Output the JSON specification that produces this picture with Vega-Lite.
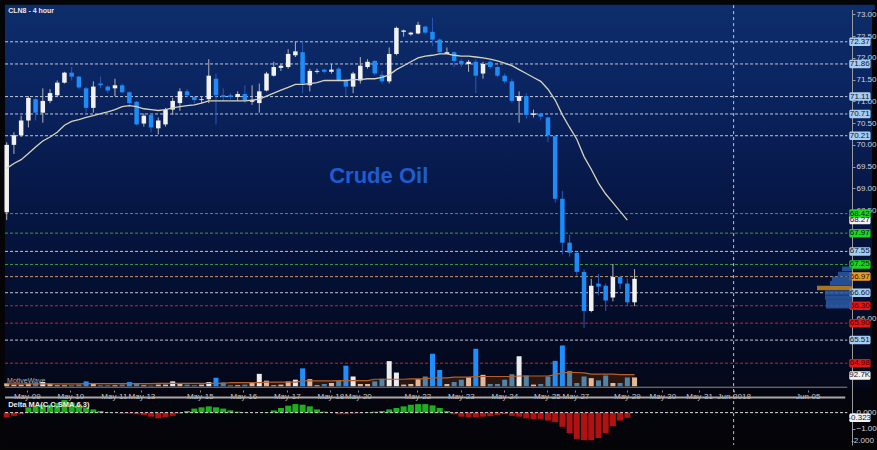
{
 "$schema": "https://vega.github.io/schema/vega-lite/v6.json",
 "width": 867, "height": 440, "padding": 5, "autosize": {"type": "none"},
 "background": "#050508",
 "config": {
  "view": {"stroke": null, "fill": {"gradient": "linear", "x1": 0, "y1": 0, "x2": 0, "y2": 1, "stops": [
    {"offset": 0, "color": "#0d2d6b"}, {"offset": 0.2, "color": "#0a2460"}, {"offset": 0.4, "color": "#07194a"},
    {"offset": 0.6, "color": "#041136"}, {"offset": 0.75, "color": "#030b24"}, {"offset": 0.86, "color": "#04081a"},
    {"offset": 0.875, "color": "#040510"}, {"offset": 1, "color": "#040408"}]}},
  "axis": {"grid": false, "labelFont": "Liberation Sans", "labelFontSize": 8, "labelColor": "#d0d0d0", "domainColor": "#8a8a8a", "tickColor": "#8a8a8a", "zindex": 0},
  "text": {"font": "Liberation Sans"}
 },
 "datasets": {
  "bars": [
   {"i":0,"open":68.45,"high":70.06,"low":68.27,"close":70.0,"ma":69.46,"vol":25.2,"vma":21,"delta":-0.3},
   {"i":1,"open":70.0,"high":70.29,"low":69.79,"close":70.22,"ma":69.57,"vol":14.3,"vma":21,"delta":-0.2},
   {"i":2,"open":70.22,"high":70.67,"low":70.18,"close":70.56,"ma":69.66,"vol":14.3,"vma":21,"delta":-0.1},
   {"i":3,"open":70.56,"high":71.12,"low":70.4,"close":71.08,"ma":69.8,"vol":22.7,"vma":21,"delta":0.33},
   {"i":4,"open":71.05,"high":71.08,"low":70.56,"close":70.74,"ma":69.95,"vol":27.7,"vma":21,"delta":0.39},
   {"i":5,"open":70.74,"high":71.3,"low":70.51,"close":71.01,"ma":70.09,"vol":36.1,"vma":21,"delta":0.49},
   {"i":6,"open":71.01,"high":71.28,"low":70.96,"close":71.19,"ma":70.18,"vol":22.7,"vma":21,"delta":0.49},
   {"i":7,"open":71.14,"high":71.48,"low":71.12,"close":71.43,"ma":70.29,"vol":8.4,"vma":21,"delta":0.59},
   {"i":8,"open":71.43,"high":71.68,"low":71.41,"close":71.66,"ma":70.45,"vol":8.4,"vma":21,"delta":0.78},
   {"i":9,"open":71.66,"high":71.79,"low":71.48,"close":71.57,"ma":70.54,"vol":8.4,"vma":21,"delta":0.63},
   {"i":10,"open":71.57,"high":71.59,"low":71.28,"close":71.32,"ma":70.58,"vol":14.3,"vma":21,"delta":0.49},
   {"i":11,"open":71.3,"high":71.34,"low":70.74,"close":70.85,"ma":70.63,"vol":42,"vma":22,"delta":0.33},
   {"i":12,"open":70.85,"high":71.46,"low":70.74,"close":71.34,"ma":70.67,"vol":22.7,"vma":22,"delta":0.2},
   {"i":13,"open":71.41,"high":71.57,"low":71.3,"close":71.37,"ma":70.72,"vol":8.4,"vma":22,"delta":0.1},
   {"i":14,"open":71.34,"high":71.37,"low":71.19,"close":71.25,"ma":70.76,"vol":8.4,"vma":22,"delta":0.02},
   {"i":15,"open":71.3,"high":71.52,"low":71.12,"close":71.37,"ma":70.81,"vol":8.4,"vma":22,"delta":0.0},
   {"i":16,"open":71.37,"high":71.41,"low":71.19,"close":71.21,"ma":70.88,"vol":14.3,"vma":22,"delta":-0.06},
   {"i":17,"open":71.21,"high":71.23,"low":70.9,"close":70.96,"ma":70.9,"vol":36.1,"vma":22,"delta":-0.06},
   {"i":18,"open":70.99,"high":71.01,"low":70.45,"close":70.47,"ma":70.88,"vol":19.3,"vma":22,"delta":-0.1},
   {"i":19,"open":70.49,"high":70.72,"low":70.42,"close":70.67,"ma":70.83,"vol":8.4,"vma":22,"delta":-0.16},
   {"i":20,"open":70.69,"high":70.72,"low":70.29,"close":70.4,"ma":70.81,"vol":5.9,"vma":22,"delta":-0.25},
   {"i":21,"open":70.38,"high":70.63,"low":70.24,"close":70.56,"ma":70.79,"vol":14.3,"vma":24,"delta":-0.35},
   {"i":22,"open":70.47,"high":70.85,"low":70.42,"close":70.81,"ma":70.81,"vol":14.3,"vma":24,"delta":-0.29},
   {"i":23,"open":70.81,"high":71.08,"low":70.69,"close":71.01,"ma":70.85,"vol":42,"vma":24,"delta":-0.2},
   {"i":24,"open":70.96,"high":71.3,"low":70.78,"close":71.23,"ma":70.88,"vol":27.7,"vma":24,"delta":-0.06},
   {"i":25,"open":71.23,"high":71.28,"low":71.1,"close":71.14,"ma":70.9,"vol":14.3,"vma":24,"delta":0.1},
   {"i":26,"open":71.1,"high":71.12,"low":70.96,"close":71.03,"ma":70.92,"vol":8.4,"vma":25,"delta":0.25},
   {"i":27,"open":71.03,"high":71.12,"low":70.96,"close":71.05,"ma":70.96,"vol":14.3,"vma":25,"delta":0.33},
   {"i":28,"open":71.05,"high":71.97,"low":70.96,"close":71.59,"ma":71.01,"vol":36.1,"vma":25,"delta":0.39},
   {"i":29,"open":71.52,"high":71.64,"low":70.47,"close":71.14,"ma":71.01,"vol":73.1,"vma":25,"delta":0.33},
   {"i":30,"open":71.14,"high":71.3,"low":71.01,"close":71.1,"ma":71.01,"vol":33.6,"vma":25,"delta":0.25},
   {"i":31,"open":71.14,"high":71.19,"low":71.05,"close":71.1,"ma":71.01,"vol":8.4,"vma":32,"delta":0.14},
   {"i":32,"open":71.1,"high":71.23,"low":71.01,"close":71.17,"ma":71.01,"vol":8.4,"vma":32,"delta":0.06},
   {"i":33,"open":71.17,"high":71.37,"low":70.96,"close":71.03,"ma":71.01,"vol":14.3,"vma":32,"delta":0.02},
   {"i":34,"open":70.99,"high":71.37,"low":70.92,"close":71.03,"ma":71.03,"vol":27.7,"vma":32,"delta":0.0},
   {"i":35,"open":70.96,"high":71.41,"low":70.74,"close":71.23,"ma":71.05,"vol":106.7,"vma":32,"delta":0.0},
   {"i":36,"open":71.25,"high":71.68,"low":71.23,"close":71.64,"ma":71.12,"vol":47.9,"vma":36,"delta":0.02},
   {"i":37,"open":71.59,"high":71.91,"low":71.57,"close":71.79,"ma":71.19,"vol":8.4,"vma":36,"delta":0.14},
   {"i":38,"open":71.77,"high":71.86,"low":71.7,"close":71.82,"ma":71.26,"vol":14.3,"vma":36,"delta":0.29},
   {"i":39,"open":71.79,"high":72.2,"low":71.75,"close":72.09,"ma":71.32,"vol":42,"vma":36,"delta":0.43},
   {"i":40,"open":72.06,"high":72.38,"low":72.02,"close":72.15,"ma":71.39,"vol":56.3,"vma":36,"delta":0.53},
   {"i":41,"open":72.13,"high":72.38,"low":71.19,"close":71.41,"ma":71.39,"vol":153.7,"vma":46,"delta":0.49},
   {"i":42,"open":71.37,"high":71.75,"low":71.23,"close":71.7,"ma":71.41,"vol":61.3,"vma":46,"delta":0.39},
   {"i":43,"open":71.68,"high":71.75,"low":71.64,"close":71.7,"ma":71.43,"vol":8.4,"vma":46,"delta":0.2},
   {"i":44,"open":71.73,"high":71.75,"low":71.64,"close":71.68,"ma":71.48,"vol":19.3,"vma":46,"delta":0.06},
   {"i":45,"open":71.68,"high":71.86,"low":71.64,"close":71.73,"ma":71.48,"vol":27.7,"vma":46,"delta":0.0},
   {"i":46,"open":71.75,"high":71.79,"low":71.46,"close":71.48,"ma":71.48,"vol":47.9,"vma":48,"delta":-0.1},
   {"i":47,"open":71.48,"high":71.52,"low":71.12,"close":71.34,"ma":71.48,"vol":176.4,"vma":48,"delta":-0.1},
   {"i":48,"open":71.34,"high":71.68,"low":71.19,"close":71.64,"ma":71.5,"vol":84,"vma":48,"delta":-0.06},
   {"i":49,"open":71.48,"high":72.02,"low":71.41,"close":71.82,"ma":71.5,"vol":19.3,"vma":48,"delta":-0.04},
   {"i":50,"open":71.79,"high":71.97,"low":71.75,"close":71.91,"ma":71.52,"vol":19.3,"vma":48,"delta":0.02},
   {"i":51,"open":71.93,"high":71.95,"low":71.59,"close":71.64,"ma":71.52,"vol":42,"vma":60,"delta":0.06},
   {"i":52,"open":71.61,"high":71.7,"low":71.41,"close":71.46,"ma":71.55,"vol":64.7,"vma":60,"delta":0.1},
   {"i":53,"open":71.46,"high":72.24,"low":71.41,"close":72.09,"ma":71.61,"vol":215.9,"vma":60,"delta":0.2},
   {"i":54,"open":72.09,"high":72.72,"low":72.06,"close":72.69,"ma":71.73,"vol":117.6,"vma":60,"delta":0.29},
   {"i":55,"open":72.6,"high":72.65,"low":72.49,"close":72.63,"ma":71.82,"vol":14.3,"vma":60,"delta":0.39},
   {"i":56,"open":72.54,"high":72.6,"low":72.51,"close":72.58,"ma":71.91,"vol":19.3,"vma":64,"delta":0.49},
   {"i":57,"open":72.56,"high":72.83,"low":72.54,"close":72.76,"ma":72.0,"vol":61.3,"vma":64,"delta":0.53},
   {"i":58,"open":72.72,"high":72.74,"low":72.54,"close":72.58,"ma":72.04,"vol":84,"vma":64,"delta":0.53},
   {"i":59,"open":72.6,"high":72.92,"low":72.27,"close":72.42,"ma":72.06,"vol":279.7,"vma":72,"delta":0.45},
   {"i":60,"open":72.42,"high":72.45,"low":72.11,"close":72.13,"ma":72.09,"vol":140.3,"vma":72,"delta":0.29},
   {"i":61,"open":72.09,"high":72.24,"low":72.09,"close":72.13,"ma":72.09,"vol":19.3,"vma":72,"delta":0.1},
   {"i":62,"open":72.13,"high":72.15,"low":71.79,"close":71.93,"ma":72.06,"vol":36.1,"vma":78,"delta":-0.1},
   {"i":63,"open":71.93,"high":71.97,"low":71.79,"close":71.86,"ma":72.04,"vol":56.3,"vma":78,"delta":-0.25},
   {"i":64,"open":71.86,"high":71.95,"low":71.68,"close":71.91,"ma":72.04,"vol":78.1,"vma":78,"delta":-0.29},
   {"i":65,"open":71.91,"high":71.97,"low":71.19,"close":71.59,"ma":72.02,"vol":321.7,"vma":84,"delta":-0.29},
   {"i":66,"open":71.64,"high":71.91,"low":71.52,"close":71.86,"ma":72.0,"vol":98.3,"vma":84,"delta":-0.25},
   {"i":67,"open":71.91,"high":71.95,"low":71.75,"close":71.79,"ma":71.97,"vol":19.3,"vma":84,"delta":-0.22},
   {"i":68,"open":71.79,"high":71.82,"low":71.55,"close":71.59,"ma":71.93,"vol":19.3,"vma":84,"delta":-0.14},
   {"i":69,"open":71.59,"high":71.64,"low":71.41,"close":71.46,"ma":71.88,"vol":56.3,"vma":84,"delta":-0.1},
   {"i":70,"open":71.46,"high":71.52,"low":70.96,"close":71.01,"ma":71.82,"vol":103.3,"vma":84,"delta":-0.2},
   {"i":71,"open":71.01,"high":71.23,"low":70.51,"close":71.12,"ma":71.73,"vol":257.9,"vma":88,"delta":-0.25},
   {"i":72,"open":71.12,"high":71.19,"low":70.6,"close":70.69,"ma":71.64,"vol":92.4,"vma":88,"delta":-0.35},
   {"i":73,"open":70.69,"high":70.81,"low":70.63,"close":70.72,"ma":71.55,"vol":14.3,"vma":88,"delta":-0.39},
   {"i":74,"open":70.72,"high":70.74,"low":70.56,"close":70.65,"ma":71.46,"vol":19.3,"vma":88,"delta":-0.39},
   {"i":75,"open":70.63,"high":70.65,"low":70.06,"close":70.22,"ma":71.28,"vol":84,"vma":88,"delta":-0.49},
   {"i":76,"open":70.2,"high":70.22,"low":68.67,"close":68.76,"ma":71.03,"vol":218.4,"vma":100,"delta":-0.59},
   {"i":77,"open":68.76,"high":68.94,"low":67.48,"close":67.75,"ma":70.69,"vol":350.3,"vma":115,"delta":-0.88},
   {"i":78,"open":67.75,"high":67.93,"low":67.43,"close":67.52,"ma":70.4,"vol":131.9,"vma":120,"delta":-1.27},
   {"i":79,"open":67.52,"high":67.55,"low":66.99,"close":67.08,"ma":70.13,"vol":27.7,"vma":118,"delta":-1.63},
   {"i":80,"open":67.08,"high":67.14,"low":65.79,"close":66.18,"ma":69.73,"vol":84,"vma":115,"delta":-1.71},
   {"i":81,"open":66.18,"high":66.92,"low":66.15,"close":66.76,"ma":69.44,"vol":69.7,"vma":105,"delta":-1.71},
   {"i":82,"open":66.81,"high":67.03,"low":66.54,"close":66.74,"ma":69.12,"vol":50.4,"vma":105,"delta":-1.57},
   {"i":83,"open":66.76,"high":66.81,"low":66.18,"close":66.42,"ma":68.87,"vol":92.4,"vma":105,"delta":-1.27},
   {"i":84,"open":66.49,"high":67.26,"low":66.4,"close":66.96,"ma":68.67,"vol":27.7,"vma":105,"delta":-0.84},
   {"i":85,"open":66.96,"high":66.99,"low":66.69,"close":66.81,"ma":68.47,"vol":27.7,"vma":100,"delta":-0.49},
   {"i":86,"open":66.81,"high":66.92,"low":66.29,"close":66.38,"ma":68.27,"vol":75.6,"vma":100,"delta":-0.32},
   {"i":87,"open":66.38,"high":67.14,"low":66.29,"close":66.92,"ma":null,"vol":75.6,"vma":100,"delta":null}
  ],
  "levels": [
   {"p":72.37,"kind":"w"},{"p":71.86,"kind":"w"},{"p":71.11,"kind":"w"},{"p":70.71,"kind":"w"},{"p":70.21,"kind":"w"},
   {"p":68.27,"kind":"m"},{"p":68.42,"kind":"g"},{"p":67.97,"kind":"g"},{"p":67.55,"kind":"w"},{"p":67.25,"kind":"g"},
   {"p":66.97,"kind":"o"},{"p":66.60,"kind":"w"},{"p":66.30,"kind":"r"},{"p":65.90,"kind":"r"},{"p":65.51,"kind":"w"},{"p":64.98,"kind":"r"}
  ],
  "profile": [
   {"p":67.15,"vp":10,"kind":"v"},{"p":67.03,"vp":14,"kind":"v"},{"p":66.92,"vp":20,"kind":"v"},{"p":66.82,"vp":22,"kind":"v"},
   {"p":66.71,"vp":35,"kind":"poc"},{"p":66.60,"vp":27,"kind":"v"},{"p":66.49,"vp":27,"kind":"v"},{"p":66.39,"vp":26,"kind":"v"},{"p":66.29,"vp":26,"kind":"v"}
  ],
  "one": [{}]
 },
 "resolve": {"scale": {"x": "independent", "y": "independent"}},
 "layer": [
  {
   "resolve": {"scale": {"y": "independent"}},
   "layer": [
    {
     "layer": [
      {
       "data": {"name": "one"},
       "mark": {"type": "rect", "color": "#0d2d6b"},
       "encoding": {
        "x": {"datum": -0.23, "type": "quantitative", "scale": {"domain": [0.455, 119.21], "nice": false, "zero": false}, "title": null},
        "x2": {"datum": 120.3},
        "y": {"datum": 73.22, "type": "quantitative", "scale": {"domain": [63.213, 73.101], "nice": false, "zero": false}, "title": null},
        "y2": {"datum": 73.1}
       }
      },
      {
       "data": {"name": "one"},
       "mark": {"type": "rect", "color": {"gradient": "linear", "x1": 0, "y1": 0, "x2": 0, "y2": 1, "stops": [
          {"offset": 0, "color": "#0d2d6b"}, {"offset": 0.2, "color": "#0a2460"}, {"offset": 0.4, "color": "#07194a"},
          {"offset": 0.6, "color": "#041136"}, {"offset": 0.75, "color": "#030b24"}, {"offset": 0.86, "color": "#04081a"},
          {"offset": 0.875, "color": "#040510"}, {"offset": 1, "color": "#040408"}]}},
       "encoding": {
        "x": {"datum": -0.23, "type": "quantitative", "scale": {"domain": [0.455, 119.21], "nice": false, "zero": false}, "title": null},
        "x2": {"datum": 0.46},
        "y": {"datum": 73.101, "type": "quantitative", "scale": {"domain": [63.213, 73.101], "nice": false, "zero": false}, "title": null},
        "y2": {"datum": 63.213}
       }
      },
      {
       "data": {"name": "levels"},
       "transform": [{"filter": "datum.kind != 'm'"}],
       "mark": {"type": "rule", "strokeDash": [3, 2], "strokeWidth": 1},
       "encoding": {
        "x": {"datum": -0.23, "type": "quantitative", "scale": {"domain": [0.455, 119.21], "nice": false, "zero": false}, "title": null},
        "x2": {"datum": 116.48},
        "y": {"field": "p", "type": "quantitative", "scale": {"domain": [63.213, 73.101], "nice": false, "zero": false}, "title": null,
              "axis": {"orient": "right", "offset": -20, "values": [66, 68.5, 69, 69.5, 70, 70.5, 71, 71.5, 72, 72.5, 73],
                       "format": ".2f", "tickSize": 3, "labelPadding": 1, "title": null, "labelColor": "#d4d4d4", "domainColor": "#9a9a9a", "tickColor": "#9a9a9a", "labelFontSize": 8, "zindex": 0}},
        "color": {"condition": [
          {"test": "datum.kind == 'g'", "value": "#3f9f3f"},
          {"test": "datum.kind == 'o'", "value": "#c89a6a"},
          {"test": "datum.kind == 'r'", "value": "#c42a2a"}], "value": "#c3c8d8"}
       }
      },
      {
       "data": {"name": "one"},
       "mark": {"type": "rule", "strokeDash": [3, 3], "strokeWidth": 1, "color": "#c8c8c8"},
       "encoding": {
        "x": {"datum": 100.73, "type": "quantitative", "scale": {"domain": [0.455, 119.21], "nice": false, "zero": false}, "title": null},
        "y": {"datum": 73.213, "type": "quantitative", "scale": {"domain": [63.213, 73.101], "nice": false, "zero": false}, "title": null},
        "y2": {"datum": 63.1}
       }
      },
      {
       "data": {"name": "bars"},
       "mark": {"type": "rule", "strokeWidth": 1},
       "encoding": {
        "x": {"field": "i", "type": "quantitative", "scale": {"domain": [0.455, 119.21], "nice": false, "zero": false}, "title": null,
              "axis": {"orient": "bottom", "offset": -55, "title": null, "domain": false, "tickSize": 2, "labelPadding": 0, "labelFontSize": 8, "labelColor": "#c8c8c8", "zindex": 0,
                       "labelFlush": false, "labelOverlap": false, "labelBound": false,
                       "values": [2.78, 8.81, 14.84, 18.67, 26.75, 32.78, 38.81, 44.84, 48.67, 56.89, 62.92, 68.95, 74.84, 78.81, 85.93, 90.86, 95.93, 100.73, 110.99],
                       "labelExpr": "datum.value == 2.78 ? 'May-09' : datum.value == 8.81 ? 'May-10' : datum.value == 14.84 ? 'May-11' : datum.value == 18.67 ? 'May-13' : datum.value == 26.75 ? 'May-15' : datum.value == 32.78 ? 'May-16' : datum.value == 38.81 ? 'May-17' : datum.value == 44.84 ? 'May-18' : datum.value == 48.67 ? 'May-20' : datum.value == 56.89 ? 'May-22' : datum.value == 62.92 ? 'May-23' : datum.value == 68.95 ? 'May-24' : datum.value == 74.84 ? 'May-25' : datum.value == 78.81 ? 'May-27' : datum.value == 85.93 ? 'May-29' : datum.value == 90.86 ? 'May-30' : datum.value == 95.93 ? 'May-31' : datum.value == 100.73 ? 'Jun-2018' : 'Jun-05'"}},
        "y": {"field": "low", "type": "quantitative", "scale": {"domain": [63.213, 73.101], "nice": false, "zero": false}, "title": null},
        "y2": {"field": "high"},
        "color": {"condition": {"test": "datum.close >= datum.open", "value": "#b4b4b4"}, "value": "#2a58b8"}
       }
      },
      {
       "data": {"name": "bars"},
       "mark": {"type": "bar", "size": 4.5},
       "encoding": {
        "x": {"field": "i", "type": "quantitative", "scale": {"domain": [0.455, 119.21], "nice": false, "zero": false}, "title": null},
        "y": {"field": "open", "type": "quantitative", "scale": {"domain": [63.213, 73.101], "nice": false, "zero": false}, "title": null},
        "y2": {"field": "close"},
        "color": {"condition": {"test": "datum.close >= datum.open", "value": "#f2f2f2"}, "value": "#1d8cf8"}
       }
      },
      {
       "data": {"name": "bars"},
       "mark": {"type": "line", "strokeWidth": 1.3, "color": "#d8d2b8"},
       "encoding": {
        "x": {"field": "i", "type": "quantitative", "scale": {"domain": [0.455, 119.21], "nice": false, "zero": false}, "title": null},
        "y": {"field": "ma", "type": "quantitative", "scale": {"domain": [63.213, 73.101], "nice": false, "zero": false}, "title": null}
       }
      },
      {
       "data": {"name": "levels"},
       "mark": {"type": "bar", "orient": "horizontal", "size": 8.5, "cornerRadius": 1.5},
       "encoding": {
        "x": {"datum": 116.75, "type": "quantitative", "scale": {"domain": [0.455, 119.21], "nice": false, "zero": false}, "title": null},
        "x2": {"datum": 119.7},
        "y": {"field": "p", "type": "quantitative", "scale": {"domain": [63.213, 73.101], "nice": false, "zero": false}, "title": null},
        "color": {"condition": [
          {"test": "datum.kind == 'g'", "value": "#1fd41f"},
          {"test": "datum.kind == 'o'", "value": "#f39a19"},
          {"test": "datum.kind == 'r'", "value": "#e01818"},
          {"test": "datum.kind == 'm'", "value": "#f2f2f2"}], "value": "#a9cdf0"}
       }
      },
      {
       "data": {"name": "levels"},
       "mark": {"type": "text", "fontSize": 8, "align": "center", "baseline": "middle"},
       "encoding": {
        "x": {"datum": 118.2, "type": "quantitative", "scale": {"domain": [0.455, 119.21], "nice": false, "zero": false}, "title": null},
        "y": {"field": "p", "type": "quantitative", "scale": {"domain": [63.213, 73.101], "nice": false, "zero": false}, "title": null},
        "text": {"field": "p", "type": "quantitative", "format": ".2f"},
        "color": {"condition": {"test": "datum.kind == 'r'", "value": "#4a0000"}, "value": "#0e1628"}
       }
      },
      {
       "data": {"name": "one"},
       "mark": {"type": "text", "fontSize": 7, "fontWeight": "bold", "align": "left", "baseline": "middle", "color": "#e8e8e8", "text": "CLN8 - 4 hour"},
       "encoding": {
        "x": {"datum": 0.2, "type": "quantitative", "scale": {"domain": [0.455, 119.21], "nice": false, "zero": false}, "title": null},
        "y": {"datum": 73.08, "type": "quantitative", "scale": {"domain": [63.213, 73.101], "nice": false, "zero": false}, "title": null}
       }
      },
      {
       "data": {"name": "one"},
       "mark": {"type": "text", "fontSize": 22, "fontWeight": "bold", "align": "center", "baseline": "middle", "color": "#1e5ccf", "text": "Crude Oil"},
       "encoding": {
        "x": {"datum": 51.55, "type": "quantitative", "scale": {"domain": [0.455, 119.21], "nice": false, "zero": false}, "title": null},
        "y": {"datum": 69.28, "type": "quantitative", "scale": {"domain": [63.213, 73.101], "nice": false, "zero": false}, "title": null}
       }
      },
      {
       "data": {"name": "one"},
       "mark": {"type": "text", "fontSize": 7, "align": "left", "baseline": "middle", "color": "#b0b0b0", "text": "MotiveWave"},
       "encoding": {
        "x": {"datum": 0.05, "type": "quantitative", "scale": {"domain": [0.455, 119.21], "nice": false, "zero": false}, "title": null},
        "y": {"datum": 64.58, "type": "quantitative", "scale": {"domain": [63.213, 73.101], "nice": false, "zero": false}, "title": null}
       }
      }
     ]
    },
    {
     "layer": [
      {
       "data": {"name": "bars"},
       "mark": {"type": "area", "color": "#3b1e10", "opacity": 0.7},
       "encoding": {
        "x": {"field": "i", "type": "quantitative", "scale": {"domain": [0.455, 119.21], "nice": false, "zero": false}, "title": null},
        "y": {"field": "vma", "type": "quantitative", "scale": {"domain": [-462, 3234], "nice": false, "zero": false}, "axis": null, "title": null}
       }
      },
      {
       "data": {"name": "bars"},
       "mark": {"type": "bar", "size": 5},
       "encoding": {
        "x": {"field": "i", "type": "quantitative", "scale": {"domain": [0.455, 119.21], "nice": false, "zero": false}, "title": null},
        "y": {"field": "vol", "type": "quantitative", "scale": {"domain": [-462, 3234], "nice": false, "zero": false}, "axis": null, "title": null},
        "color": {"condition": [
          {"test": "datum.close >= datum.open && datum.vol > 1.4 * datum.vma", "value": "#ececec"},
          {"test": "datum.close >= datum.open", "value": "#e2b896"},
          {"test": "datum.vol > 1.4 * datum.vma", "value": "#1e8fff"}], "value": "#4f84ab"}
       }
      },
      {
       "data": {"name": "bars"},
       "mark": {"type": "line", "strokeWidth": 1.2, "color": "#b4602c"},
       "encoding": {
        "x": {"field": "i", "type": "quantitative", "scale": {"domain": [0.455, 119.21], "nice": false, "zero": false}, "title": null},
        "y": {"field": "vma", "type": "quantitative", "scale": {"domain": [-462, 3234], "nice": false, "zero": false}, "axis": null, "title": null}
       }
      },
      {
       "data": {"name": "one"},
       "mark": {"type": "bar", "orient": "horizontal", "size": 8.5, "cornerRadius": 1.5, "color": "#f2f2f2"},
       "encoding": {
        "x": {"datum": 116.75, "type": "quantitative", "scale": {"domain": [0.455, 119.21], "nice": false, "zero": false}, "title": null},
        "x2": {"datum": 119.7},
        "y": {"datum": 92.7, "type": "quantitative", "scale": {"domain": [-462, 3234], "nice": false, "zero": false}, "axis": null, "title": null}
       }
      },
      {
       "data": {"name": "one"},
       "mark": {"type": "text", "fontSize": 8, "align": "center", "baseline": "middle", "color": "#0e1628", "text": "92.7K"},
       "encoding": {
        "x": {"datum": 118.2, "type": "quantitative", "scale": {"domain": [0.455, 119.21], "nice": false, "zero": false}, "title": null},
        "y": {"datum": 92.7, "type": "quantitative", "scale": {"domain": [-462, 3234], "nice": false, "zero": false}, "axis": null, "title": null}
       }
      }
     ]
    },
    {
     "layer": [
      {
       "data": {"name": "bars"},
       "mark": {"type": "bar", "size": 6},
       "encoding": {
        "x": {"field": "i", "type": "quantitative", "scale": {"domain": [0.455, 119.21], "nice": false, "zero": false}, "title": null},
        "y": {"field": "delta", "type": "quantitative", "scale": {"domain": [-1.697, 24.97], "nice": false, "zero": false}, "title": null,
              "axis": {"orient": "right", "offset": -20, "values": [0, -1], "format": ".3f", "tickSize": 3, "labelPadding": 1, "title": null, "zindex": 0, "domain": false,
                       "labelColor": "#d4d4d4", "tickColor": "#9a9a9a", "labelFontSize": 8}},
        "color": {"condition": {"test": "datum.delta >= 0", "value": "#1fae1f"}, "value": "#b01212"}
       }
      },
      {
       "data": {"name": "one"},
       "mark": {"type": "rule", "strokeDash": [3, 2], "strokeWidth": 1, "color": "#e0e0e0"},
       "encoding": {
        "x": {"datum": -0.23, "type": "quantitative", "scale": {"domain": [0.455, 119.21], "nice": false, "zero": false}, "title": null},
        "x2": {"datum": 116.48},
        "y": {"datum": 0, "type": "quantitative", "scale": {"domain": [-1.697, 24.97], "nice": false, "zero": false}, "title": null}
       }
      },
      {
       "data": {"name": "one"},
       "mark": {"type": "rule", "strokeWidth": 1, "color": "#8a8a8a"},
       "encoding": {
        "x": {"datum": -0.23, "type": "quantitative", "scale": {"domain": [0.455, 119.21], "nice": false, "zero": false}, "title": null},
        "x2": {"datum": 116.48},
        "y": {"datum": 1.576, "type": "quantitative", "scale": {"domain": [-1.697, 24.97], "nice": false, "zero": false}, "title": null}
       }
      },
      {
       "data": {"name": "one"},
       "mark": {"type": "rule", "strokeWidth": 2, "color": "#a8a8a8"},
       "encoding": {
        "x": {"datum": -0.23, "type": "quantitative", "scale": {"domain": [0.455, 119.21], "nice": false, "zero": false}, "title": null},
        "x2": {"datum": 116.2},
        "y": {"datum": 0.94, "type": "quantitative", "scale": {"domain": [-1.697, 24.97], "nice": false, "zero": false}, "title": null}
       }
      },
      {
       "data": {"name": "one"},
       "mark": {"type": "text", "fontSize": 7.5, "fontWeight": "bold", "align": "left", "baseline": "middle", "color": "#ececec", "text": "Delta MA(C,C,SMA,6,3)"},
       "encoding": {
        "x": {"datum": 0.2, "type": "quantitative", "scale": {"domain": [0.455, 119.21], "nice": false, "zero": false}, "title": null},
        "y": {"datum": 0.45, "type": "quantitative", "scale": {"domain": [-1.697, 24.97], "nice": false, "zero": false}, "title": null}
       }
      },
      {
       "data": {"name": "one"},
       "mark": {"type": "text", "fontSize": 8, "align": "left", "baseline": "middle", "color": "#d4d4d4", "text": "-2.000"},
       "encoding": {
        "x": {"datum": 117.02, "type": "quantitative", "scale": {"domain": [0.455, 119.21], "nice": false, "zero": false}, "title": null},
        "y": {"datum": -1.78, "type": "quantitative", "scale": {"domain": [-1.697, 24.97], "nice": false, "zero": false}, "title": null}
       }
      },
      {
       "data": {"name": "one"},
       "mark": {"type": "bar", "orient": "horizontal", "size": 8.5, "cornerRadius": 1.5, "color": "#f2f2f2"},
       "encoding": {
        "x": {"datum": 116.75, "type": "quantitative", "scale": {"domain": [0.455, 119.21], "nice": false, "zero": false}, "title": null},
        "x2": {"datum": 119.7},
        "y": {"datum": -0.323, "type": "quantitative", "scale": {"domain": [-1.697, 24.97], "nice": false, "zero": false}, "title": null}
       }
      },
      {
       "data": {"name": "one"},
       "mark": {"type": "text", "fontSize": 8, "align": "center", "baseline": "middle", "color": "#0e1628", "text": "-0.323"},
       "encoding": {
        "x": {"datum": 118.2, "type": "quantitative", "scale": {"domain": [0.455, 119.21], "nice": false, "zero": false}, "title": null},
        "y": {"datum": -0.323, "type": "quantitative", "scale": {"domain": [-1.697, 24.97], "nice": false, "zero": false}, "title": null}
       }
      }
     ]
    }
   ]
  },
  {
   "data": {"name": "profile"},
   "mark": {"type": "bar", "orient": "horizontal", "size": 4.5, "opacity": 0.85},
   "encoding": {
    "x": {"field": "vp", "type": "quantitative", "scale": {"domain": [847, -20], "nice": false, "zero": false}, "axis": null, "title": null},
    "x2": {"datum": 0},
    "y": {"field": "p", "type": "quantitative", "scale": {"domain": [63.213, 73.101], "nice": false, "zero": false}, "axis": null, "title": null},
    "color": {"condition": {"test": "datum.kind == 'poc'", "value": "#c8861e"}, "value": "#2b5aa6"}
   }
  }
 ]
}
